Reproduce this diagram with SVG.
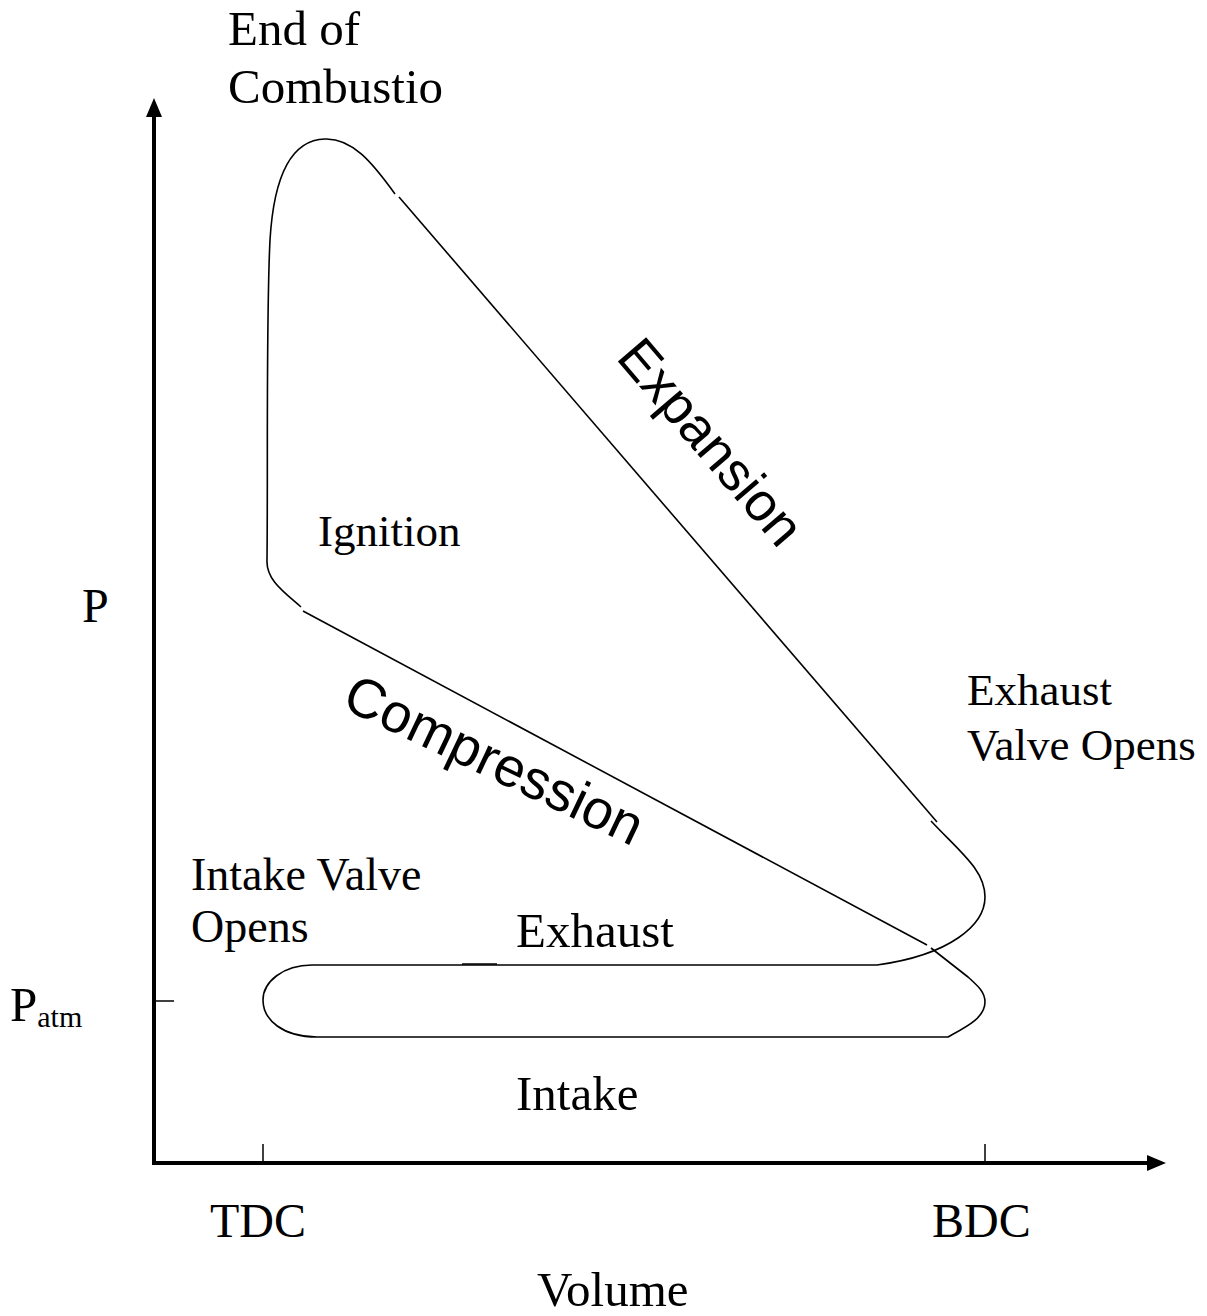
<svg xmlns="http://www.w3.org/2000/svg" width="1207" height="1316" viewBox="0 0 1207 1316">
<style>
.lbl{font-family:"Liberation Serif","Times New Roman",serif;fill:#000}
.big{font-family:"Liberation Sans",Arial,sans-serif;fill:#000}
.curve{fill:none;stroke:#000;stroke-width:1.6;stroke-linejoin:round;stroke-linecap:butt}
.axis{fill:none;stroke:#000;stroke-width:4}
.tick{fill:none;stroke:#000;stroke-width:1.5}
</style>
<rect width="1207" height="1316" fill="#fff"/>
<g id="axes">
<line class="axis" x1="154" y1="1165" x2="154" y2="112"/>
<polygon points="154,98 146,117 162,117" fill="#000"/>
<line class="axis" x1="152" y1="1163" x2="1150" y2="1163"/>
<polygon points="1166,1163 1147,1155 1147,1171" fill="#000"/>
<line class="tick" x1="263" y1="1144" x2="263" y2="1163"/>
<line class="tick" x1="985" y1="1144" x2="985" y2="1163"/>
<line class="tick" x1="154" y1="1001" x2="174" y2="1001"/>
</g>
<g id="cycle">
<path class="curve" d="M301 607 C284 592, 266 580, 267 560 C268 470, 266 320, 270 240 C273 190, 285 140, 325 139 C352 138, 372 162, 395 194"/>
<path class="curve" d="M399 197 L937 822"/>
<path class="curve" d="M931 821 C960 852, 985 870, 985 897 C985 925, 950 955, 877 965 L312 965 C283 965, 263 982, 263 1000 C263 1020, 283 1037, 317 1037 L948 1037 C966 1027, 985 1018, 985 1002 C985 992, 978 986, 968 977 L931 948"/>
<path class="curve" d="M462 964 L497 964"/>
<path class="curve" d="M303 611 L927 945"/>
</g>
<g id="labels">
<text class="lbl" x="228" y="45" font-size="49">End of</text>
<text class="lbl" x="228" y="103" font-size="49">Combustio</text>
<text class="lbl" x="318" y="546" font-size="45">Ignition</text>
<text class="lbl" x="82" y="622" font-size="48">P</text>
<text class="lbl" x="10" y="1021" font-size="49">P<tspan font-size="30" dy="6">atm</tspan></text>
<text class="lbl" x="967" y="705" font-size="45">Exhaust</text>
<text class="lbl" x="967" y="760" font-size="45">Valve Opens</text>
<text class="lbl" x="191" y="890" font-size="46">Intake Valve</text>
<text class="lbl" x="191" y="942" font-size="46">Opens</text>
<text class="lbl" x="516" y="947" font-size="49">Exhaust</text>
<text class="lbl" x="516" y="1110" font-size="49">Intake</text>
<text class="lbl" x="210" y="1237" font-size="48">TDC</text>
<text class="lbl" x="932" y="1237" font-size="48">BDC</text>
<text class="lbl" x="537" y="1306" font-size="49">Volume</text>
<text class="big" font-size="54" transform="translate(615 358) rotate(49.5)">Expansion</text>
<text class="big" font-size="55" transform="translate(340 707) rotate(25.5)">Compression</text>
</g>
</svg>
